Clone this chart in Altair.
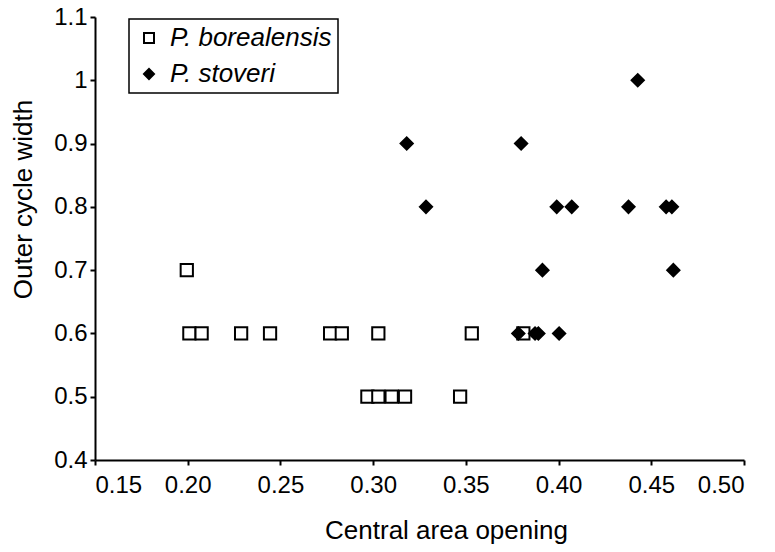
import altair as alt
import pandas as pd

species_names = ["P. borealensis", "P. stoveri"]

borealensis_x = [0.1995, 0.2009, 0.2075, 0.2288, 0.2444, 0.2768, 0.2831, 0.3028,
                 0.3532, 0.3810, 0.2969, 0.3028, 0.3100, 0.3172, 0.3469]
borealensis_y = [0.7, 0.6, 0.6, 0.6, 0.6, 0.6, 0.6, 0.6,
                 0.6, 0.6, 0.5, 0.5, 0.5, 0.5, 0.5]

stoveri_x = [0.4427, 0.3181, 0.3798, 0.3285, 0.3990, 0.4071, 0.4377, 0.4580,
             0.4611, 0.3913, 0.4619, 0.3783, 0.3873, 0.3891, 0.4003]
stoveri_y = [1.0, 0.9, 0.9, 0.8, 0.8, 0.8, 0.8, 0.8,
             0.8, 0.7, 0.7, 0.6, 0.6, 0.6, 0.6]

x_ticks = [0.15, 0.20, 0.25, 0.30, 0.35, 0.40, 0.45, 0.50]
y_ticks = [0.4, 0.5, 0.6, 0.7, 0.8, 0.9, 1.0, 1.1]

df = pd.concat([
    pd.DataFrame({"x": borealensis_x, "y": borealensis_y, "species": species_names[0]}),
    pd.DataFrame({"x": stoveri_x, "y": stoveri_y, "species": species_names[1]}),
])

FONT = "Liberation Sans"


def make_legend():
    return alt.Legend(title=None, orient="none", legendX=34, legendY=2,
                      symbolStrokeColor="black", symbolStrokeWidth=2,
                      symbolSize=100, symbolOffset=1, labelOffset=8,
                      labelFont=FONT, labelFontStyle="italic",
                      labelFontSize=26, labelColor="black", labelLimit=400,
                      rowPadding=10, padding=6, strokeColor="black")


chart = alt.Chart(df).mark_point(
    strokeWidth=2, opacity=1, size=150
).encode(
    x=alt.X("x:Q", title="Central area opening",
            scale=alt.Scale(domain=[0.15, 0.50], nice=False, zero=False),
            axis=alt.Axis(values=x_ticks, format=".2f", titleX=351, titleY=78,
                          titleBaseline="alphabetic", titleAlign="center",
                          labelPadding=8)),
    y=alt.Y("y:Q", title="Outer cycle width",
            scale=alt.Scale(domain=[0.4, 1.1], nice=False, zero=False),
            axis=alt.Axis(values=y_ticks, format="~g", titleX=-64, titleY=182,
                          titleAngle=270, titleBaseline="alphabetic",
                          titleAlign="center", labelPadding=3)),
    shape=alt.Shape("species:N", scale=alt.Scale(domain=species_names, range=["square", "diamond"]),
                    legend=make_legend()),
    fill=alt.Fill("species:N", scale=alt.Scale(domain=species_names, range=["white", "black"]),
                  legend=make_legend()),
    stroke=alt.Stroke("species:N", scale=alt.Scale(domain=species_names, range=["black", "black"]),
                      legend=make_legend()),
).properties(
    width=649, height=443,
    autosize=alt.AutoSizeParams(type="none"),
    padding={"left": 87, "top": 9, "right": 23, "bottom": 84},
).configure_view(
    stroke=None
).configure_axis(
    grid=False, domainColor="black", domainWidth=2, tickColor="black", tickWidth=2,
    tickSize=5, labelFont=FONT, labelFontSize=24, labelColor="black",
    titleFont=FONT, titleFontSize=26, titleFontWeight="normal", titleColor="black",
).configure_legend(
    strokeWidth=1.5
)

chart.save("out.html", embed_options={"renderer": "svg", "actions": False})
